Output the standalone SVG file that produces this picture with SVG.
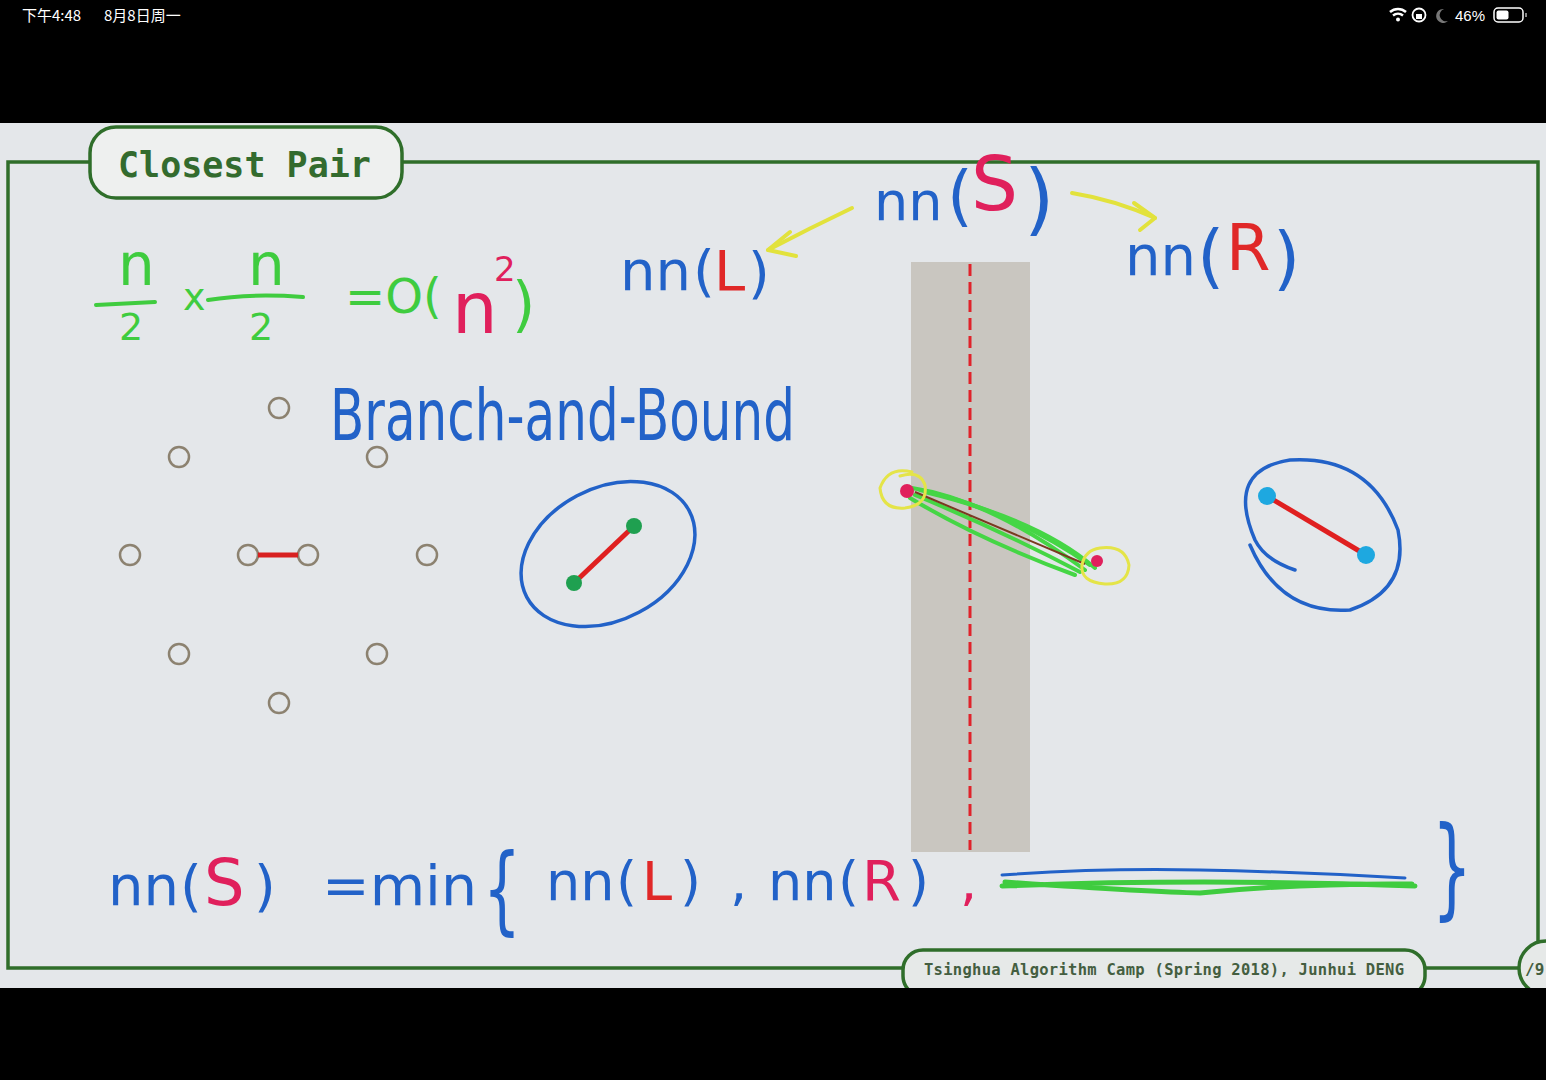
<svg xmlns="http://www.w3.org/2000/svg" width="1546" height="1080" viewBox="0 0 1546 1080">
<style>
.hw{font-family:"DejaVu Sans","Liberation Sans",sans-serif;font-weight:normal}
.blue{fill:#2262c8}
.grn{fill:#3fcc3f}
.mag{fill:#e0205c}
.red{fill:#e02828}
.pen{fill:none;stroke-linecap:round;stroke-linejoin:round}
.pt{fill:none;stroke:#8c8270;stroke-width:2.5}
.frame{fill:none;stroke:#2f6e2a;stroke-width:3.5}
.mono{font-family:"DejaVu Sans Mono","Liberation Mono",monospace;font-weight:bold;fill:#336b2e}
</style>
<defs>
<clipPath id="slide"><rect x="0" y="123" width="1546" height="865"/></clipPath>
</defs>
<rect width="1546" height="1080" fill="#000"/>
<g id="statusbar" fill="#fff">
<text x="22" y="21" font-family="Noto Sans CJK SC, sans-serif" font-size="15">下午4:48</text>
<text x="104" y="21" font-family="Noto Sans CJK SC, sans-serif" font-size="15">8月8日周一</text>
<path d="M1390 12 A12 12 0 0 1 1406 12" fill="none" stroke="#fff" stroke-width="2.5"/>
<path d="M1393 15.5 A8 8 0 0 1 1403 15.5" fill="none" stroke="#fff" stroke-width="2.5"/>
<circle cx="1398" cy="19.5" r="2"/>
<circle cx="1419" cy="15" r="6.5" fill="none" stroke="#fff" stroke-width="1.8"/>
<rect x="1416" y="14" width="6" height="5"/>
<path d="M1444 9 A7 7 0 1 0 1448 21 A6 6 0 0 1 1444 9 Z" fill="#777"/>
<text x="1455" y="21" font-family="Liberation Sans, sans-serif" font-size="15">46%</text>
<rect x="1494" y="8" width="29" height="14" rx="4" fill="none" stroke="#fff" stroke-width="1.5"/>
<rect x="1496.5" y="10.5" width="12" height="9" rx="2"/>
<rect x="1525" y="13" width="2" height="4" fill="#888"/>
</g>
<g clip-path="url(#slide)">
<rect x="0" y="123" width="1546" height="865" fill="#e4e7ea"/>
<g id="frame">
<path class="frame" d="M400 162 H1538 V968 H8 V162 H92"/>
</g>
<g id="gray-strip">
<rect x="911" y="262" width="119" height="590" fill="#c9c6c0"/>
<line x1="970" y1="264" x2="970" y2="850" stroke="#e0222a" stroke-width="3" stroke-dasharray="12 6"/>
</g>
<g id="title">
<rect x="90" y="127" width="312" height="71" rx="26" fill="#eef0ef" stroke="#2f6e2a" stroke-width="3.5"/>
<text class="mono" x="118" y="177" font-size="35">Closest Pair</text>
</g>
<g id="footer">
<rect x="903" y="950" width="522" height="46" rx="20" fill="#e6e9e8" stroke="#2f6e2a" stroke-width="3.5"/>
<text class="mono" x="924" y="975" font-size="15.5" textLength="480" style="fill:#445e40">Tsinghua Algorithm Camp (Spring 2018), Junhui DENG</text>
<circle cx="1546" cy="968" r="27" fill="#e6e9e8" stroke="#2f6e2a" stroke-width="3.5"/>
<text class="mono" x="1525" y="975" font-size="16" style="fill:#445e40">/9</text>
</g>
<g id="points">
<circle class="pt" cx="279" cy="408" r="10"/>
<circle class="pt" cx="179" cy="457" r="10"/>
<circle class="pt" cx="377" cy="457" r="10"/>
<circle class="pt" cx="130" cy="555" r="10"/>
<circle class="pt" cx="248" cy="555" r="10"/>
<circle class="pt" cx="308" cy="555" r="10"/>
<circle class="pt" cx="427" cy="555" r="10"/>
<circle class="pt" cx="179" cy="654" r="10"/>
<circle class="pt" cx="377" cy="654" r="10"/>
<circle class="pt" cx="279" cy="703" r="10"/>
<line x1="258" y1="555" x2="298" y2="555" stroke="#d82020" stroke-width="5"/>
</g>
<g id="formula-top">
<text class="hw grn" x="118" y="285" font-size="58">n</text>
<path class="pen" d="M96 305 L155 302" stroke="#3fcc3f" stroke-width="4"/>
<text class="hw grn" x="119" y="340" font-size="38">2</text>
<text class="hw grn" x="183" y="310" font-size="38">x</text>
<text class="hw grn" x="248" y="285" font-size="58">n</text>
<path class="pen" d="M208 300 Q250 293 303 297" stroke="#3fcc3f" stroke-width="4"/>
<text class="hw grn" x="249" y="340" font-size="38">2</text>
<text class="hw grn" x="345" y="313" font-size="48">=O(</text>
<text class="hw mag" x="452" y="333" font-size="72">n</text>
<text class="hw mag" x="494" y="281" font-size="34">2</text>
<text class="hw grn" x="512" y="325" font-size="60">)</text>
</g>
<g id="node-nnL">
<text class="hw blue" x="620" y="290" font-size="56">nn</text>
<text class="hw blue" x="693" y="290" font-size="56">(</text>
<text class="hw red" x="714" y="290" font-size="56">L</text>
<text class="hw blue" x="748" y="292" font-size="56">)</text>
</g>
<g id="node-nnS">
<text class="hw blue" x="874" y="220" font-size="54">nn</text>
<text class="hw blue" x="947" y="218" font-size="66">(</text>
<text class="hw mag" x="971" y="210" font-size="74">S</text>
<text class="hw blue" x="1024" y="226" font-size="78">)</text>
</g>
<g id="node-nnR">
<text class="hw blue" x="1125" y="275" font-size="56">nn</text>
<text class="hw blue" x="1197" y="280" font-size="70">(</text>
<text class="hw red" x="1226" y="270" font-size="64">R</text>
<text class="hw blue" x="1273" y="282" font-size="70">)</text>
</g>
<g id="connectors" class="pen" stroke="#e2e23c" stroke-width="4">
<path d="M852 208 Q810 228 768 250"/>
<path d="M790 232 L768 250 L796 256"/>
<path d="M1072 193 Q1115 200 1155 218"/>
<path d="M1134 203 L1155 218 L1140 230"/>
</g>
<g id="bnb">
<text class="hw blue" x="330" y="440" font-size="72" textLength="465" lengthAdjust="spacingAndGlyphs">Branch-and-Bound</text>
</g>
<g id="left-pair">
<ellipse cx="608" cy="554" rx="92" ry="66" transform="rotate(-28 608 554)" fill="none" stroke="#2262c8" stroke-width="3.5"/>
<line x1="574" y1="583" x2="634" y2="526" stroke="#e02020" stroke-width="5"/>
<circle cx="574" cy="583" r="8" fill="#1fa050"/>
<circle cx="634" cy="526" r="8" fill="#1fa050"/>
</g>
<g id="right-pair">
<path class="pen" d="M1295 570 Q1265 560 1255 540 Q1225 470 1290 460 Q1370 455 1398 530 Q1410 590 1350 610 Q1280 615 1250 545" stroke="#2262c8" stroke-width="3.5"/>
<line x1="1267" y1="496" x2="1366" y2="555" stroke="#e02020" stroke-width="5"/>
<circle cx="1267" cy="496" r="9" fill="#1ea8e0"/>
<circle cx="1366" cy="555" r="9" fill="#1ea8e0"/>
</g>
<g id="cross-pair">
<g class="pen" stroke="#45d645" stroke-width="4">
<path d="M912 488 Q990 500 1085 570"/>
<path d="M915 495 Q1000 530 1080 572"/>
<path d="M920 490 Q1010 510 1090 565"/>
<path d="M910 498 Q980 540 1075 575"/>
<path d="M925 492 Q1040 520 1095 568"/>
</g>
<line x1="915" y1="492" x2="1085" y2="564" stroke="#7a3a20" stroke-width="2"/>
<circle cx="907" cy="491" r="7" fill="#e0205c"/>
<circle cx="1097" cy="561" r="6" fill="#e0205c"/>
<path class="pen" d="M912 472 Q888 466 880 488 Q882 510 905 508 Q928 505 925 485 Q920 470 900 476" stroke="#e4e448" stroke-width="3"/>
<path class="pen" d="M1100 548 Q1125 545 1129 565 Q1128 585 1105 584 Q1080 582 1082 565 Q1085 550 1100 548" stroke="#e4e448" stroke-width="3"/>
</g>
<g id="formula-bottom">
<text class="hw blue" x="108" y="905" font-size="56">nn</text>
<text class="hw blue" x="180" y="905" font-size="56">(</text>
<text class="hw mag" x="204" y="905" font-size="64">S</text>
<text class="hw blue" x="254" y="905" font-size="56">)</text>
<text class="hw blue" x="322" y="905" font-size="56" textLength="155" lengthAdjust="spacingAndGlyphs">=min</text>
<text class="hw blue" x="483" y="922" font-size="96" textLength="38" lengthAdjust="spacingAndGlyphs">{</text>
<text class="hw blue" x="546" y="900" font-size="54">nn</text>
<text class="hw blue" x="616" y="900" font-size="54">(</text>
<text class="hw red" x="642" y="900" font-size="54">L</text>
<text class="hw blue" x="680" y="900" font-size="54">)</text>
<text class="hw blue" x="730" y="900" font-size="54">,</text>
<text class="hw blue" x="768" y="900" font-size="54">nn</text>
<text class="hw blue" x="838" y="900" font-size="54">(</text>
<text class="hw mag" x="862" y="900" font-size="56">R</text>
<text class="hw blue" x="908" y="900" font-size="54">)</text>
<text class="hw mag" x="960" y="900" font-size="54">,</text>
<path class="pen" d="M1002 875 Q1100 868 1200 870 Q1300 872 1405 878" stroke="#2262c8" stroke-width="3"/>
<path class="pen" d="M1002 886 Q1200 878 1415 886 M1005 882 Q1150 892 1200 893 Q1300 883 1412 884" stroke="#3fcc3f" stroke-width="5"/>
<text class="hw blue" x="1432" y="905" font-size="110" textLength="40" lengthAdjust="spacingAndGlyphs">}</text>
</g>
</g>
<rect x="0" y="988" width="1546" height="92" fill="#000"/>
</svg>
